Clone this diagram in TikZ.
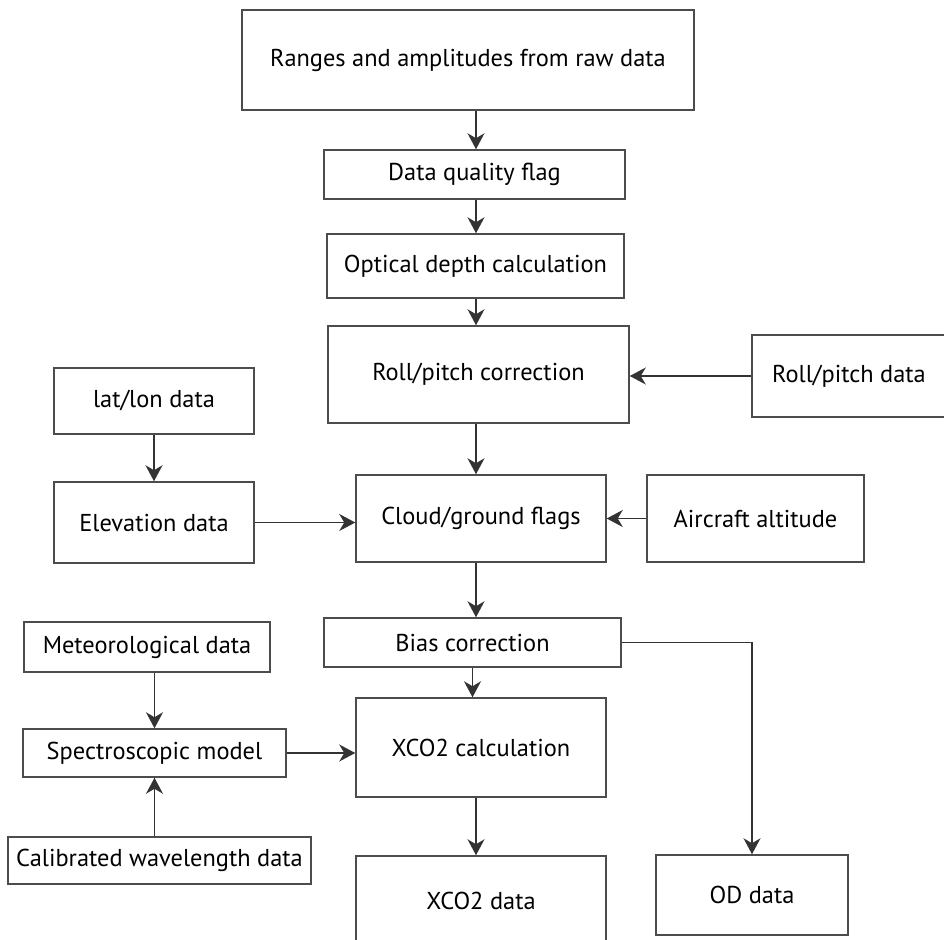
\documentclass[tikz,border=0pt]{standalone}
\usepackage{fontspec}
\setmainfont{PT Sans}
\usetikzlibrary{arrows.meta}
\tikzset{
  box/.style={draw=black!70, line width=0.75pt, inner sep=0pt, align=center, font=\fontsize{12.2}{14}\selectfont},
  arr/.style={-{Stealth[length=8pt, width=8.5pt, inset=2.5pt]}, line width=0.75pt, draw=black!80},
}
\begin{document}
\begin{tikzpicture}[x=0.5pt, y=-0.5pt]
  \useasboundingbox (0,0) rectangle (944,939);

  %% === Main column ===
  \node[box, minimum width=226pt, minimum height=50pt] (ranges) at (468,60) {Ranges and amplitudes from raw data};
  \node[box, minimum width=150.5pt, minimum height=24.5pt] (dqf) at (474.5,174.5) {Data quality flag};
  \node[box, minimum width=148.5pt, minimum height=32pt] (odc) at (475.5,266) {Optical depth calculation};
  \node[box, minimum width=150.5pt, minimum height=48.5pt] (rpc) at (478.5,374.5) {Roll/pitch correction};
  \node[box, minimum width=125pt, minimum height=43.5pt] (cgf) at (481,518.5) {Cloud/ground flags};
  \node[box, minimum width=148.5pt, minimum height=24.5pt] (bias) at (472.5,642.5) {Bias correction};
  \node[box, minimum width=125pt, minimum height=49.5pt] (xcalc) at (481,747.5) {XCO2 calculation};
  \node[box, minimum width=125pt, minimum height=44.5pt] (xdata) at (481,900.5) {XCO2 data};

  %% === Left inputs ===
  \node[box, minimum width=100pt, minimum height=33pt] (latlon) at (154,401) {lat/lon data};
  \node[box, minimum width=100pt, minimum height=40.5pt] (elev) at (154,522.5) {Elevation data};
  \node[box, minimum width=123pt, minimum height=25pt] (met) at (147,647) {Meteorological data};
  \node[box, minimum width=131.5pt, minimum height=24pt] (spec) at (154.5,753) {Spectroscopic model};
  \node[box, minimum width=151.5pt, minimum height=23.5pt] (cal) at (159.5,860.5) {Calibrated wavelength data};

  %% === Right inputs / outputs ===
  \node[box, minimum width=97pt, minimum height=41pt] (rpd) at (849,376) {Roll/pitch data};
  \node[box, minimum width=108.5pt, minimum height=43.5pt] (alt) at (755.5,518.5) {Aircraft altitude};
  \node[box, minimum width=96pt, minimum height=40pt] (od) at (752,895) {OD data};

  % Spine of the main column
  \coordinate (spine) at (476,0);

  % Main flow
  \draw[arr] (ranges.south -| spine) -- (dqf.north -| spine);
  \draw[arr] (dqf.south -| spine) -- (odc.north -| spine);
  \draw[arr] (odc.south -| spine) -- (rpc.north -| spine);
  \draw[arr] (rpc.south -| spine) -- (cgf.north -| spine);
  \draw[arr] (cgf.south -| spine) -- (bias.north -| spine);
  \draw[arr] (bias.south) -- (bias.south |- xcalc.north);
  \draw[arr] (xcalc.south -| spine) -- (xdata.north -| spine);

  % Side inputs
  \draw[arr] (rpd.west) -- (rpd.west -| rpc.east);
  \draw[arr] (latlon.south) -- (elev.north);
  \draw[arr] (elev.east) -- (elev.east -| cgf.west);
  \draw[arr] (alt.west) -- (alt.west -| cgf.east);
  \draw[arr] (met.south -| spec) -- (spec.north);
  \draw[arr] (cal.north -| spec) -- (spec.south);
  \draw[arr] (spec.east) -- (spec.east -| xcalc.west);

  % OD output
  \draw[arr] (bias.east) -| (od.north);
\end{tikzpicture}
\end{document}
